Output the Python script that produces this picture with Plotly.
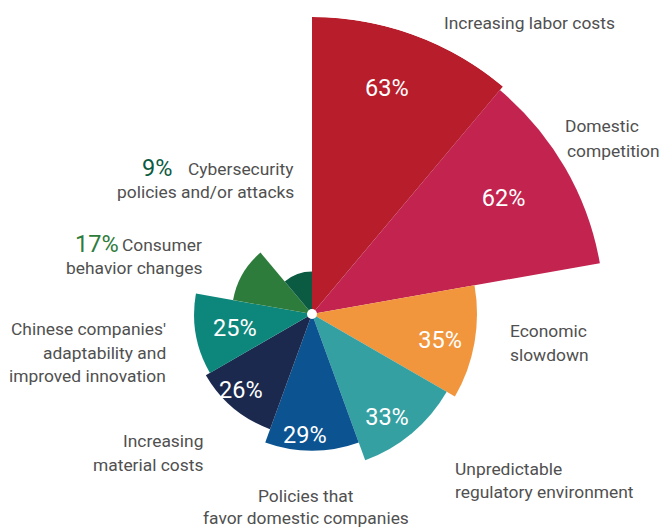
import plotly.graph_objects as go

# ---------------- data ----------------
categories = [
    "Increasing labor costs",
    "Domestic<br>competition",
    "Economic<br>slowdown",
    "Unpredictable<br>regulatory environment",
    "Policies that<br>favor domestic companies",
    "Increasing<br>material costs",
    "Chinese companies'<br>adaptability and<br>improved innovation",
    "Consumer<br>behavior changes",
    "Cybersecurity<br>policies and/or attacks",
]
values = [63, 62, 35, 33, 29, 26, 25, 17, 9]
colors = ["#B81D2B", "#C2234F", "#F2963D", "#34A0A2", "#0B5391",
          "#1B294E", "#0D877B", "#2D7C3C", "#0B5B42"]

# ---------------- layout helpers ----------------
W, H = 670, 620           # figure taller than window so the rose can overflow below
CX, CY, R = 312, 314, 297  # centre and outer radius in pixels
FONT = "Roboto, Liberation Sans, Arial, sans-serif"
GRAY = "#505050"
LABEL_SIZE = 17.4
PCT_SIZE = 23.5

def px(x):
    return x / W

def py(y):
    return 1 - y / H

n = len(categories)
step = 360 / n
thetas = [i * step + step / 2 for i in range(n)]

# inside percentage label positions (radial units, degrees)
pct_inside = {0: (50.1, 18.5), 1: (47.3, 59.2), 2: (27.8, 102.3), 3: (27.4, 144.5),
              4: (26.1, 183.3), 5: (22.4, 222.3), 6: (16.7, 258.3)}
# outside percentage label positions (pixels, right anchored)
pct_outside = {7: (120.5, 244.5), 8: (173.5, 167.5)}
# category label line positions (pixels)
label_layout = [
    ("left", [(441.7, 22.7)]),
    ("left", [(562.7, 126), (565, 151)]),
    ("left", [(508.3, 331), (508.3, 355.4)]),
    ("left", [(453.3, 468.7), (453.3, 492)]),
    ("center", [(306, 496), (306, 517.7)]),
    ("right", [(205, 441), (205, 465)]),
    ("right", [(168, 329), (168, 353), (168, 376)]),
    ("right", [(204, 245.4), (204, 267.7)]),
    ("right", [(296, 168.7), (296, 192)]),
]

fig = go.Figure()
fig.add_trace(go.Barpolar(
    r=values, theta=thetas, width=[step] * n,
    marker=dict(color=colors, line=dict(width=0)),
    hoverinfo="skip", showlegend=False,
))

idx = sorted(pct_inside)
fig.add_trace(go.Scatterpolar(
    r=[pct_inside[i][0] for i in idx], theta=[pct_inside[i][1] for i in idx],
    mode="text", text=[f"{values[i]}%" for i in idx],
    textfont=dict(family=FONT, size=PCT_SIZE, color="white"),
    hoverinfo="skip", showlegend=False,
))
fig.add_trace(go.Scatterpolar(
    r=[0], theta=[0], mode="markers",
    marker=dict(color="white", size=10, line=dict(width=0)),
    hoverinfo="skip", showlegend=False,
))

annotations = []
for i, (anchor, pos) in enumerate(label_layout):
    lines = categories[i].split("<br>")
    for line, (x, y) in zip(lines, pos):
        annotations.append(dict(
            x=px(x), y=py(y), xref="paper", yref="paper", text=line,
            showarrow=False, xanchor=anchor, yanchor="middle",
            font=dict(family=FONT, size=LABEL_SIZE, color=GRAY),
        ))
for i, (x, y) in pct_outside.items():
    annotations.append(dict(
        x=px(x), y=py(y), xref="paper", yref="paper", text=f"{values[i]}%",
        showarrow=False, xanchor="right", yanchor="middle",
        font=dict(family=FONT, size=PCT_SIZE, color=colors[i]),
    ))

fig.update_layout(
    width=W, height=H,
    margin=dict(l=0, r=0, t=0, b=0),
    paper_bgcolor="white", plot_bgcolor="white",
    polar=dict(
        domain=dict(x=[(CX - R) / W, (CX + R) / W], y=[py(CY + R), py(CY - R)]),
        bgcolor="rgba(0,0,0,0)",
        radialaxis=dict(range=[0, 63], visible=False, showgrid=False),
        angularaxis=dict(rotation=90, direction="clockwise", visible=False,
                         showgrid=False, showline=False, ticks=""),
    ),
    annotations=annotations,
    showlegend=False,
)

fig.write_html("out.html",
               post_script="document.documentElement.style.overflow='hidden';"
                           "document.body.style.overflow='hidden';")
